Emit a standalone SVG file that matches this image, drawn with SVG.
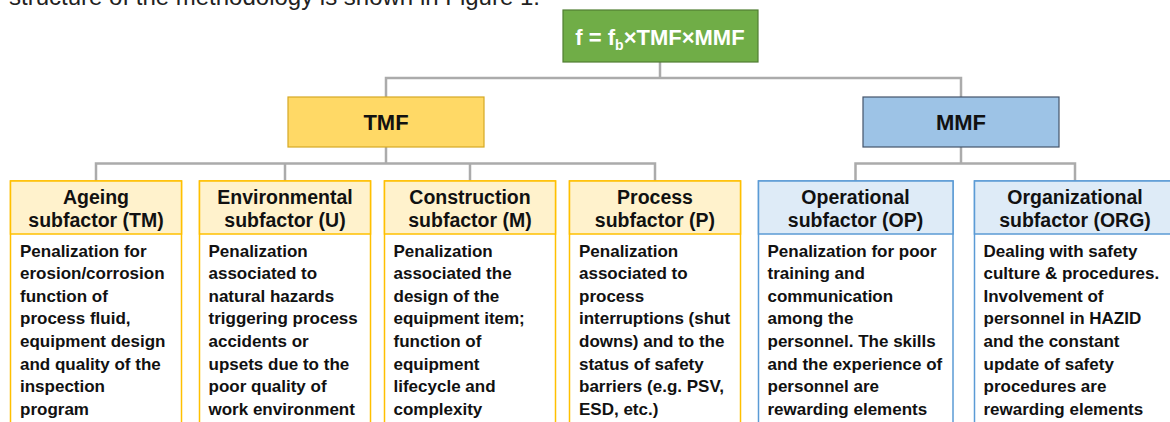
<svg xmlns="http://www.w3.org/2000/svg" width="1170" height="422" viewBox="0 0 1170 422">
<style>
text{font-family:"Liberation Sans",Arial,sans-serif;font-weight:bold;fill:#111}
.cap{font-weight:normal;font-size:24px;fill:#222}
.f{fill:#fff;font-size:22px;text-anchor:middle}
.big{font-size:22px;text-anchor:middle}
.hd{font-size:19.5px;text-anchor:middle}
.bd{font-size:17px}
.con{fill:none;stroke:#ABABAB;stroke-width:2.5}
.ybox{fill:#fff;stroke:#FFC000;stroke-width:1.5}
.yhd{fill:#FFF2CC;stroke:#FFC000;stroke-width:1.5}
.bbox{fill:#fff;stroke:#5B9BD5;stroke-width:1.5}
.bhd{fill:#DEEBF7;stroke:#5B9BD5;stroke-width:1.5}
</style>
<rect width="1170" height="422" fill="#fff"/>
<text class="cap" x="9" y="5">structure of the methodology is shown in Figure 1.</text>
<g id="connectors">
<path class="con" d="M660 62V78M386 97V78H961V97"/>
<path class="con" d="M386 147V163.5M96 181V163.5H655V181M285 163.5V181M470 163.5V181"/>
<path class="con" d="M961 147V163.5M855.5 181V163.5H1075V181"/>
</g>
<g id="root">
<rect x="563" y="10" width="195" height="52" fill="#70AD47" stroke="#507E32" stroke-width="1.2"/>
<text class="f" x="660" y="45">f = f<tspan font-size="14" dy="5">b</tspan><tspan dy="-5">×TMF×MMF</tspan></text>
</g>
<g id="tmf">
<rect x="288" y="97" width="196" height="50" fill="#FFD966" stroke="#D6A823" stroke-width="1.2"/>
<text class="big" x="386" y="130">TMF</text>
</g>
<g id="mmf">
<rect x="863" y="97" width="196" height="50" fill="#9DC3E6" stroke="#44546A" stroke-width="1.2"/>
<text class="big" x="961" y="130">MMF</text>
</g>
<g id="ageing">
<rect class="ybox" x="10.5" y="181" width="171" height="260"/>
<rect class="yhd" x="10.5" y="181" width="171" height="53"/>
<text class="hd" x="96" y="204">Ageing</text>
<text class="hd" x="96" y="226.5">subfactor (TM)</text>
<text class="bd" x="20" y="256.5">Penalization for<tspan x="20" dy="22.6">erosion/corrosion</tspan><tspan x="20" dy="22.6">function of</tspan><tspan x="20" dy="22.6">process fluid,</tspan><tspan x="20" dy="22.6">equipment design</tspan><tspan x="20" dy="22.6">and quality of the</tspan><tspan x="20" dy="22.6">inspection</tspan><tspan x="20" dy="22.6">program</tspan></text>
</g>
<g id="environmental">
<rect class="ybox" x="199.5" y="181" width="171" height="260"/>
<rect class="yhd" x="199.5" y="181" width="171" height="53"/>
<text class="hd" x="285" y="204">Environmental</text>
<text class="hd" x="285" y="226.5">subfactor (U)</text>
<text class="bd" x="208.5" y="256.5">Penalization<tspan x="208.5" dy="22.6">associated to</tspan><tspan x="208.5" dy="22.6">natural hazards</tspan><tspan x="208.5" dy="22.6">triggering process</tspan><tspan x="208.5" dy="22.6">accidents or</tspan><tspan x="208.5" dy="22.6">upsets due to the</tspan><tspan x="208.5" dy="22.6">poor quality of</tspan><tspan x="208.5" dy="22.6">work environment</tspan></text>
</g>
<g id="construction">
<rect class="ybox" x="384.5" y="181" width="171" height="260"/>
<rect class="yhd" x="384.5" y="181" width="171" height="53"/>
<text class="hd" x="470" y="204">Construction</text>
<text class="hd" x="470" y="226.5">subfactor (M)</text>
<text class="bd" x="393.5" y="256.5">Penalization<tspan x="393.5" dy="22.6">associated the</tspan><tspan x="393.5" dy="22.6">design of the</tspan><tspan x="393.5" dy="22.6">equipment item;</tspan><tspan x="393.5" dy="22.6">function of</tspan><tspan x="393.5" dy="22.6">equipment</tspan><tspan x="393.5" dy="22.6">lifecycle and</tspan><tspan x="393.5" dy="22.6">complexity</tspan></text>
</g>
<g id="process">
<rect class="ybox" x="569.5" y="181" width="171" height="260"/>
<rect class="yhd" x="569.5" y="181" width="171" height="53"/>
<text class="hd" x="655" y="204">Process</text>
<text class="hd" x="655" y="226.5">subfactor (P)</text>
<text class="bd" x="579" y="256.5">Penalization<tspan x="579" dy="22.6">associated to</tspan><tspan x="579" dy="22.6">process</tspan><tspan x="579" dy="22.6">interruptions (shut</tspan><tspan x="579" dy="22.6">downs) and to the</tspan><tspan x="579" dy="22.6">status of safety</tspan><tspan x="579" dy="22.6">barriers (e.g. PSV,</tspan><tspan x="579" dy="22.6">ESD, etc.)</tspan></text>
</g>
<g id="operational">
<rect class="bbox" x="758.5" y="181" width="194.5" height="260"/>
<rect class="bhd" x="758.5" y="181" width="194.5" height="53"/>
<text class="hd" x="855.5" y="204">Operational</text>
<text class="hd" x="855.5" y="226.5">subfactor (OP)</text>
<text class="bd" x="767.5" y="256.5">Penalization for poor<tspan x="767.5" dy="22.6">training and</tspan><tspan x="767.5" dy="22.6">communication</tspan><tspan x="767.5" dy="22.6">among the</tspan><tspan x="767.5" dy="22.6">personnel. The skills</tspan><tspan x="767.5" dy="22.6">and the experience of</tspan><tspan x="767.5" dy="22.6">personnel are</tspan><tspan x="767.5" dy="22.6">rewarding elements</tspan></text>
</g>
<g id="organizational">
<rect class="bbox" x="974.5" y="181" width="201" height="260"/>
<rect class="bhd" x="974.5" y="181" width="201" height="53"/>
<text class="hd" x="1075" y="204">Organizational</text>
<text class="hd" x="1075" y="226.5">subfactor (ORG)</text>
<text class="bd" x="983.5" y="256.5">Dealing with safety<tspan x="983.5" dy="22.6">culture &amp; procedures.</tspan><tspan x="983.5" dy="22.6">Involvement of</tspan><tspan x="983.5" dy="22.6">personnel in HAZID</tspan><tspan x="983.5" dy="22.6">and the constant</tspan><tspan x="983.5" dy="22.6">update of safety</tspan><tspan x="983.5" dy="22.6">procedures are</tspan><tspan x="983.5" dy="22.6">rewarding elements</tspan></text>
</g>
</svg>
